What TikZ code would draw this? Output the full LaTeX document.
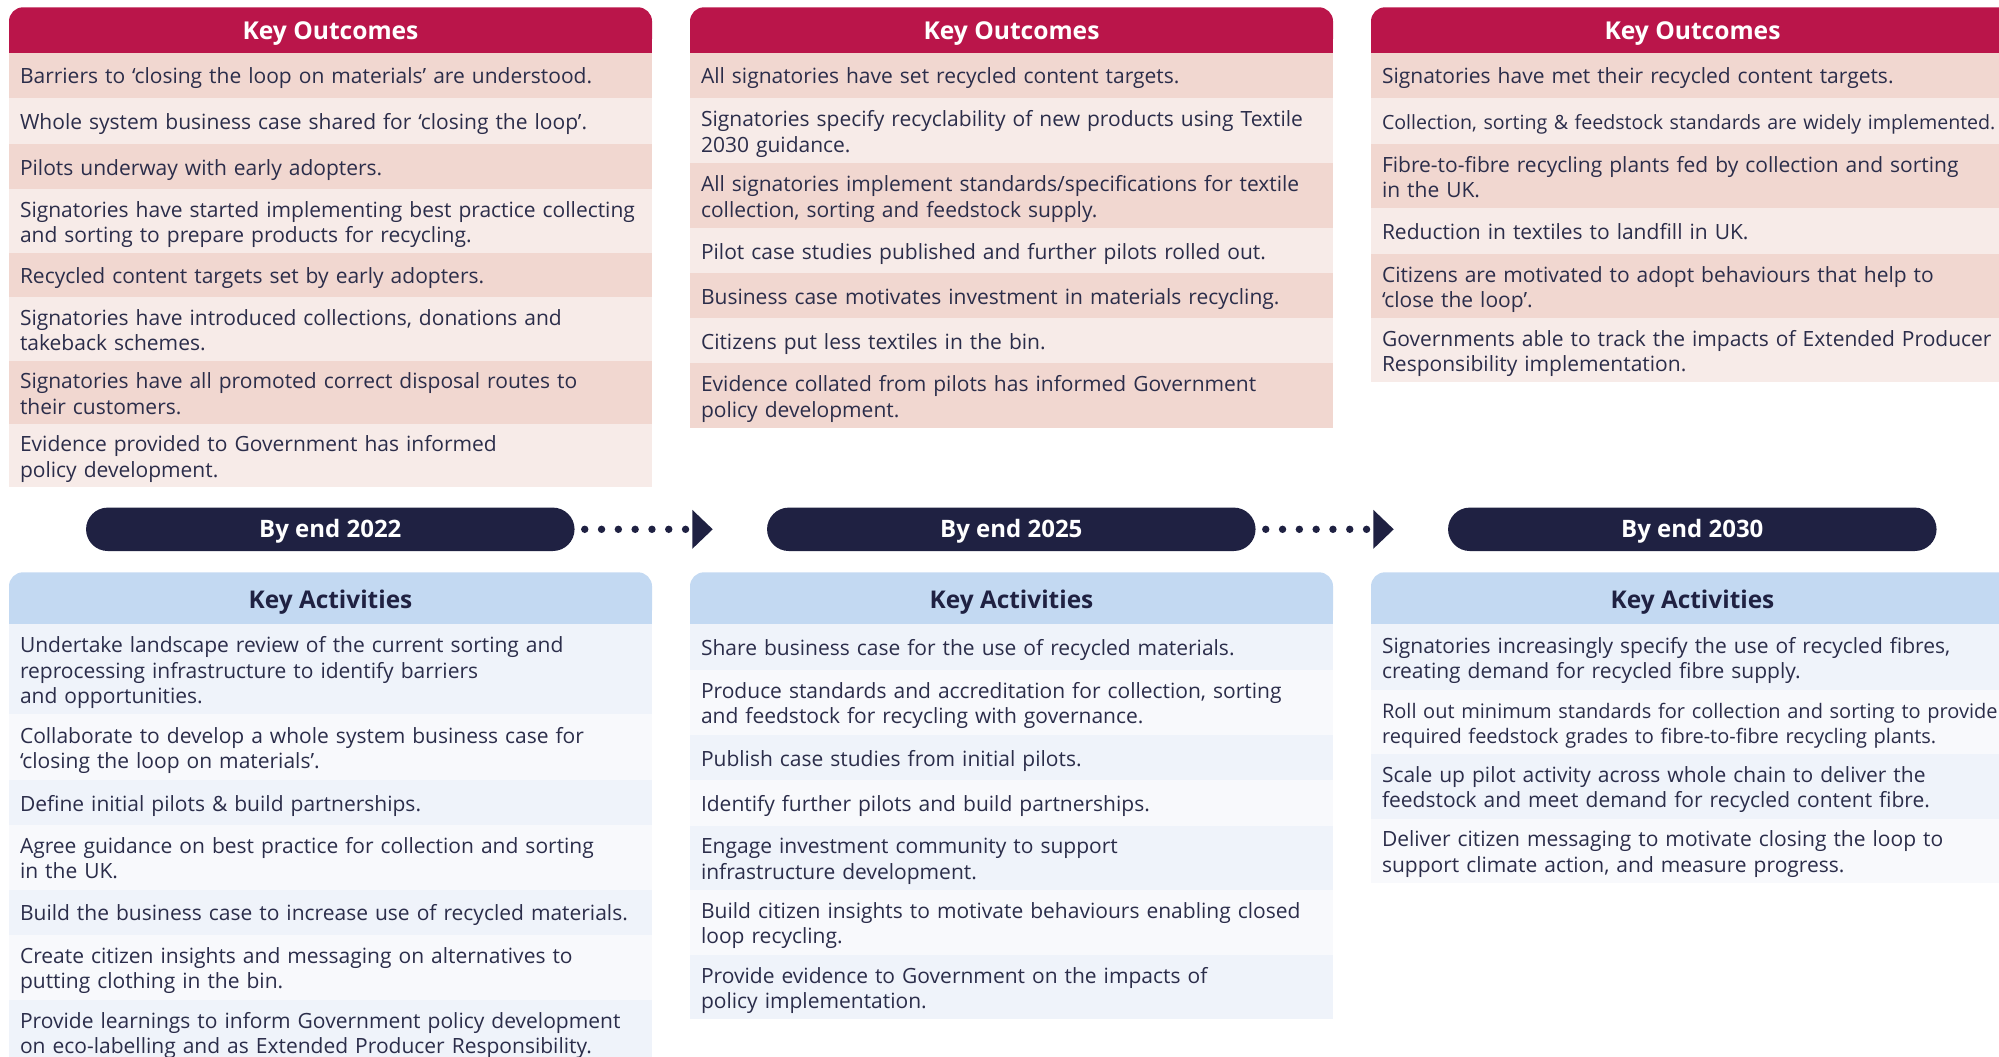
\documentclass[tikz,border=0pt]{standalone}
\usepackage{fontspec}
\setmainfont{Open Sans}
\definecolor{crimson}{HTML}{BA154A}
\definecolor{orowA}{HTML}{F1D7D0}
\definecolor{orowB}{HTML}{F7EBE8}
\definecolor{ahead}{HTML}{C3D9F2}
\definecolor{arowA}{HTML}{EFF3FA}
\definecolor{arowB}{HTML}{F8F9FC}
\definecolor{navy}{HTML}{1F2142}
\definecolor{txt}{HTML}{2B2D4A}
\newcommand\rowitem[7]{%
  \node[rowbg, fill=#5, minimum height={#4pt-#3pt}] (#1) at (#2,#3) {};
  \node[rowtxt, #6] (#1t) at ([xshift=11pt,yshift=-1.3pt]#1.west) {#7};
}
\newcommand\colhead[6]{%
  \node[headbg, fill=#5, minimum height={#4pt-#3pt}] (#1bg) at (#2,#3) {};
  \fill[#5] ([yshift=14pt]#1bg.south west) rectangle (#1bg.south east);
  \node[headtxt, #6] (#1) at ([yshift=-1pt]#1bg.center) {\csname hd#1\endcsname};
}
\begin{document}
\begin{tikzpicture}[x=1pt,y=-1pt,
  rowbg/.style={rectangle, anchor=north west, inner sep=0pt, outer sep=0pt, minimum width=643pt, draw=none},
  rowtxt/.style={anchor=west, inner sep=0pt, outer sep=0pt, align=left, text width=720pt, text=txt,
    font=\fontsize{21}{25.5}\selectfont, text height=15pt},
  tight/.style={font=\fontsize{20}{25.5}\selectfont},
  tighter/.style={font=\fontsize{19.6}{25.5}\selectfont},
  l1/.style={text depth=0pt},
  l2/.style={text depth=25.5pt},
  l3/.style={text depth=51pt},
  headbg/.style={rectangle, rounded corners=14pt, anchor=north west, inner sep=0pt, outer sep=0pt, minimum width=643pt, draw=none},
  headtxt/.style={inner sep=0pt, text depth=0pt},
  outhead/.style={text=white, font=\bfseries\fontsize{24.6}{29}\selectfont, text height=17.6pt},
  acthead/.style={text=navy, font=\bfseries\fontsize{24.4}{29}\selectfont, text height=17.4pt},
  pill/.style={rectangle, rounded corners=21.7pt, fill=navy, text=white, minimum width=488.5pt, minimum height=43.4pt,
    inner sep=0pt, font=\bfseries\fontsize{24}{28}\selectfont, text height=17.3pt, text depth=0pt},
  dotline/.style={draw=navy, line width=7.4pt, line cap=round, dash pattern=on 0pt off 16.8pt}
]
\useasboundingbox (0,0) rectangle (1999,1057);
\clip (0,0) rectangle (1999,1057);

\def\hdhoa{Key Outcomes}\def\hdhob{Key Outcomes}\def\hdhoc{Key Outcomes}
\def\hdhaa{Key Activities}\def\hdhab{Key Activities}\def\hdhac{Key Activities}

% ---------- Key Outcomes ----------
\colhead{hoa}{9}{7.3}{52.7}{crimson}{outhead}
\colhead{hob}{690}{7.3}{52.7}{crimson}{outhead}
\colhead{hoc}{1371}{7.3}{52.7}{crimson}{outhead}

% column 1
\rowitem{oa1}{9}{52.7}{97.7}{orowA}{l1}{Barriers to ‘closing the loop on materials’ are understood.}
\rowitem{oa2}{9}{97.7}{144}{orowB}{l1}{Whole system business case shared for ‘closing the loop’.}
\rowitem{oa3}{9}{144}{189}{orowA}{l1}{Pilots underway with early adopters.}
\rowitem{oa4}{9}{189}{253.3}{orowB}{l2}{Signatories have started implementing best practice collecting\\and sorting to prepare products for recycling.}
\rowitem{oa5}{9}{253.3}{297}{orowA}{l1}{Recycled content targets set by early adopters.}
\rowitem{oa6}{9}{297}{361}{orowB}{l2}{Signatories have introduced collections, donations and\\takeback schemes.}
\rowitem{oa7}{9}{361}{424}{orowA}{l2}{Signatories have all promoted correct disposal routes to\\their customers.}
\rowitem{oa8}{9}{424}{487}{orowB}{l2}{Evidence provided to Government has informed\\policy development.}

% column 2
\rowitem{ob1}{690}{52.7}{97.7}{orowA}{l1}{All signatories have set recycled content targets.}
\rowitem{ob2}{690}{97.7}{163.3}{orowB}{l2}{Signatories specify recyclability of new products using Textile\\2030 guidance.}
\rowitem{ob3}{690}{163.3}{227.7}{orowA}{l2}{All signatories implement standards/specifications for textile\\collection, sorting and feedstock supply.}
\rowitem{ob4}{690}{227.7}{272.7}{orowB}{l1}{Pilot case studies published and further pilots rolled out.}
\rowitem{ob5}{690}{272.7}{317.7}{orowA}{l1}{Business case motivates investment in materials recycling.}
\rowitem{ob6}{690}{317.7}{363.3}{orowB}{l1}{Citizens put less textiles in the bin.}
\rowitem{ob7}{690}{363.3}{427.7}{orowA}{l2}{Evidence collated from pilots has informed Government\\policy development.}

% column 3
\rowitem{oc1}{1371}{52.7}{97.7}{orowA}{l1}{Signatories have met their recycled content targets.}
\rowitem{oc2}{1371}{97.7}{144}{orowB}{l1,tighter}{Collection, sorting \& feedstock standards are widely implemented.}
\rowitem{oc3}{1371}{144}{208.3}{orowA}{l2}{Fibre-to-fibre recycling plants fed by collection and sorting\\in the UK.}
\rowitem{oc4}{1371}{208.3}{254}{orowB}{l1}{Reduction in textiles to landfill in UK.}
\rowitem{oc5}{1371}{254}{318.3}{orowA}{l2}{Citizens are motivated to adopt behaviours that help to\\‘close the loop’.}
\rowitem{oc6}{1371}{318.3}{381.7}{orowB}{l2}{Governments able to track the impacts of Extended Producer\\Responsibility implementation.}

% ---------- Timeline ----------
\node[pill] (p1) at (330.3,529.3) {By end 2022};
\node[pill] (p2) at (1011.3,529.3) {By end 2025};
\node[pill] (p3) at (1692.3,529.3) {By end 2030};
\coordinate (a1) at (692.3,529.3);
\coordinate (a2) at (1373.3,529.3);
\draw[dotline] ([xshift=10pt]p1.east) -- (a1);
\draw[dotline] ([xshift=10pt]p2.east) -- (a2);
\fill[navy] ([yshift=19.5pt]a1) -- ([xshift=20.4pt]a1) -- ([yshift=-19.5pt]a1) -- cycle;
\fill[navy] ([yshift=19.5pt]a2) -- ([xshift=20.4pt]a2) -- ([yshift=-19.5pt]a2) -- cycle;

% ---------- Key Activities ----------
\colhead{haa}{9}{572.3}{624.3}{ahead}{acthead}
\colhead{hab}{690}{572.3}{624.3}{ahead}{acthead}
\colhead{hac}{1371}{572.3}{624.3}{ahead}{acthead}

% column 1
\rowitem{aa1}{9}{624.3}{714.4}{arowA}{l3}{Undertake landscape review of the current sorting and\\reprocessing infrastructure to identify barriers\\and opportunities.}
\rowitem{aa2}{9}{714.4}{780}{arowB}{l2}{Collaborate to develop a whole system business case for\\‘closing the loop on materials’.}
\rowitem{aa3}{9}{780}{824.9}{arowA}{l1}{Define initial pilots \& build partnerships.}
\rowitem{aa4}{9}{824.9}{889.6}{arowB}{l2}{Agree guidance on best practice for collection and sorting\\in the UK.}
\rowitem{aa5}{9}{889.6}{934.5}{arowA}{l1}{Build the business case to increase use of recycled materials.}
\rowitem{aa6}{9}{934.5}{999.7}{arowB}{l2}{Create citizen insights and messaging on alternatives to\\putting clothing in the bin.}
\rowitem{aa7}{9}{999.7}{1064.7}{arowA}{l2}{Provide learnings to inform Government policy development\\on eco-labelling and as Extended Producer Responsibility.}

% column 2
\rowitem{ab1}{690}{624.3}{669.5}{arowA}{l1}{Share business case for the use of recycled materials.}
\rowitem{ab2}{690}{669.5}{735}{arowB}{l2}{Produce standards and accreditation for collection, sorting\\and feedstock for recycling with governance.}
\rowitem{ab3}{690}{735}{780}{arowA}{l1}{Publish case studies from initial pilots.}
\rowitem{ab4}{690}{780}{826}{arowB}{l1}{Identify further pilots and build partnerships.}
\rowitem{ab5}{690}{826}{889.6}{arowA}{l2}{Engage investment community to support\\infrastructure development.}
\rowitem{ab6}{690}{889.6}{954.8}{arowB}{l2}{Build citizen insights to motivate behaviours enabling closed\\loop recycling.}
\rowitem{ab7}{690}{954.8}{1019.2}{arowA}{l2}{Provide evidence to Government on the impacts of\\policy implementation.}

% column 3
\rowitem{ac1}{1371}{624.3}{689.8}{arowA}{l2}{Signatories increasingly specify the use of recycled fibres,\\creating demand for recycled fibre supply.}
\rowitem{ac2}{1371}{689.8}{754.2}{arowB}{l2,tight}{Roll out minimum standards for collection and sorting to provide\\required feedstock grades to fibre-to-fibre recycling plants.}
\rowitem{ac3}{1371}{754.2}{818.6}{arowA}{l2}{Scale up pilot activity across whole chain to deliver the\\feedstock and meet demand for recycled content fibre.}
\rowitem{ac4}{1371}{818.6}{883}{arowB}{l2}{Deliver citizen messaging to motivate closing the loop to\\support climate action, and measure progress.}
\end{tikzpicture}
\end{document}
